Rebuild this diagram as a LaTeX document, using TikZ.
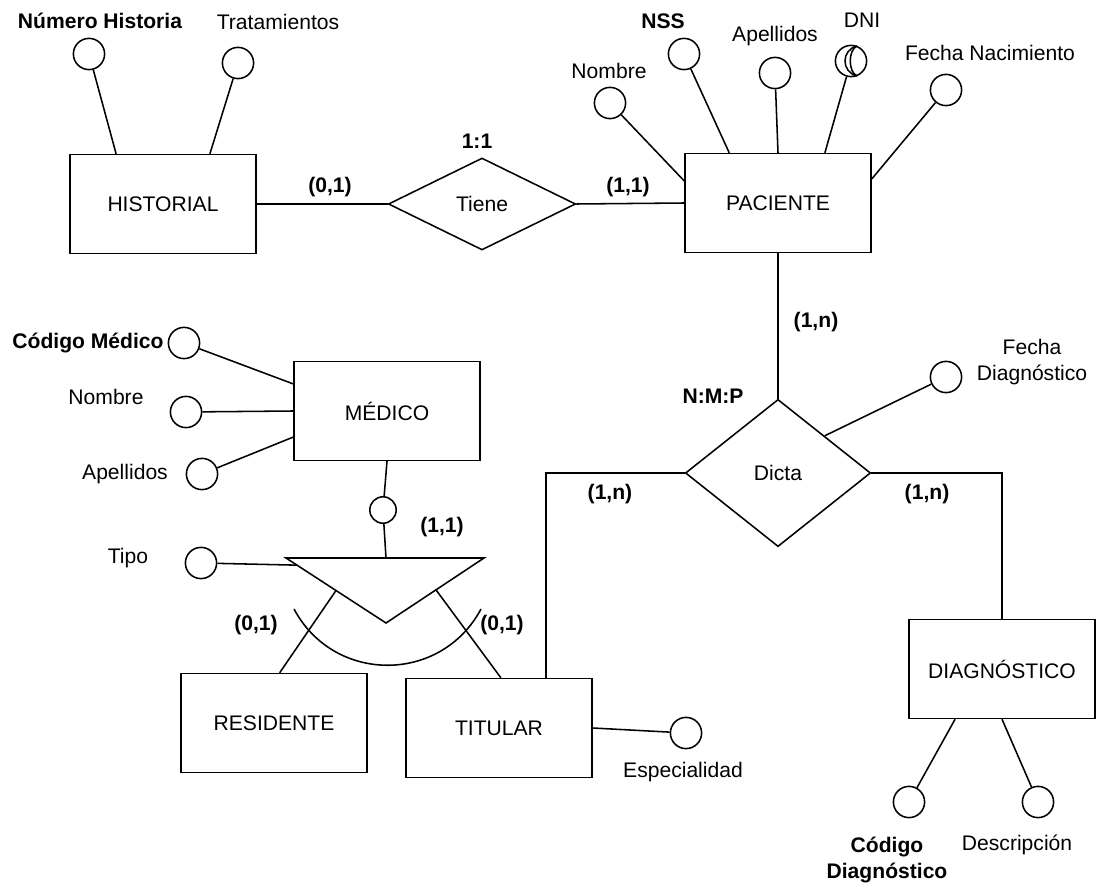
\documentclass[tikz,border=0pt]{standalone}
\usepackage{fontspec}
\setmainfont{Liberation Sans}
\usetikzlibrary{shapes.geometric,calc}
\tikzset{
  entidad/.style={draw, rectangle, minimum width=4.65cm, minimum height=2.47cm, inner sep=0pt},
  relacion/.style={draw, diamond, inner sep=0pt},
  atributo/.style={draw, circle, minimum size=0.78cm, inner sep=0pt},
  card/.style={font=\fontsize{15}{18}\selectfont\bfseries},
  rotulo/.style={align=center}
}
\begin{document}
\begin{tikzpicture}[x=0.025cm, y=-0.025cm, line width=1.1pt, font=\fontsize{15}{18}\selectfont]
%esquema entidad-relacion de la consulta medica
\useasboundingbox (0,0) rectangle (1098,885);

\node[entidad] (historial) at (163,204) {HISTORIAL};
\node[entidad] (paciente) at (778,203) {PACIENTE};
\node[entidad] (medico) at (387,411) {MÉDICO};
\node[entidad] (residente) at (274,723) {RESIDENTE};
\node[entidad] (titular) at (499,728) {TITULAR};
\node[entidad] (diagnostico) at (1002,669) {DIAGNÓSTICO};

\node[relacion, minimum width=4.68cm, minimum height=2.3cm] (tiene) at (482,204) {Tiene};
\node[relacion, minimum width=4.63cm, minimum height=3.68cm] (dicta) at (778,473) {Dicta};

\foreach \n/\x/\y in
{ nh/89/54, tr/238/63,
  pnom/610/103, nss/684/54, pape/775/73, dni/851/61, fn/946/90,
  cm/184/343, mnom/186/412, mape/202/474, tipo/201/563,
  esp/686/733, fd/946/377, cd/909/802, desc/1038/802
}
{
    \node[atributo] (\n) at (\x,\y) {};
}
\node[atributo, minimum size=0.66cm] (sc) at (383,510) {};

% la marca del DNI
\draw ($(dni)+(6,-15)$) .. controls ($(dni)+(-10,-11)$) and ($(dni)+(-10,11)$) .. ($(dni)+(6,15)$);
\draw ($(dni)+(6,-15)$) .. controls ($(dni)+(-3,-11)$) and ($(dni)+(-3,11)$) .. ($(dni)+(6,15)$);

\foreach \n/\s/\x/\y/\t in
{ nh/card/100/21/{Número Historia},
  tr/rotulo/278/22/Tratamientos,
  pnom/rotulo/609/71/Nombre,
  nss/card/663/21/NSS,
  pape/rotulo/775/36/Apellidos,
  dni/rotulo/862/20/DNI,
  fn/rotulo/990/53/{Fecha Nacimiento},
  cm/card/88/343/{Código Médico},
  mnom/rotulo/106/397/Nombre,
  mape/rotulo/125/474/Apellidos,
  tipo/rotulo/128/558/Tipo,
  esp/rotulo/683/772/Especialidad,
  fd/rotulo/1032/362/{Fecha\\Diagnóstico},
  desc/rotulo/1020/845/Descripción
}
{
    \node[\s] (l-\n) at (\x,\y) {\t};
}
\node[card, align=center] (l-cd) at (887,860) {Código\\Diagnóstico};

\foreach \n/\x/\y/\t in
{ c1/330/187/{(0,1)}, c2/628/187/{(1,1)}, c3/477/141/{1:1},
  c4/816/322/{(1,n)}, c5/713/396/{N:M:P}, c6/610/494/{(1,n)},
  c7/927/494/{(1,n)}, c8/442/527/{(1,1)}, c9/256/625/{(0,1)},
  c10/502/625/{(0,1)}
}
{
    \node[card] (\n) at (\x,\y) {\t};
}

\draw (historial.east) -- (tiene.west);
\draw (tiene.east) -- (paciente.west);
\draw (paciente.south) -- (dicta.north);
\draw (dicta.west) -| ($(titular.north west)!0.75!(titular.north east)$);
\draw (dicta.east) -| (diagnostico.north);
\draw (fd) -- ($(dicta.north)!0.5!(dicta.east)$);

\draw (nh) -- ($(historial.north west)!0.25!(historial.north east)$);
\draw (tr) -- ($(historial.north west)!0.75!(historial.north east)$);
\draw (pnom) -- ($(paciente.north west)!0.28!(paciente.south west)$);
\draw (nss) -- ($(paciente.north west)!0.24!(paciente.north east)$);
\draw (pape) -- (paciente.north);
\draw (dni) -- ($(paciente.north west)!0.75!(paciente.north east)$);
\draw (fn) -- ($(paciente.north east)!0.26!(paciente.south east)$);
\draw (cm) -- ($(medico.north west)!0.23!(medico.south west)$);
\draw (mnom) -- (medico.west);
\draw (mape) -- ($(medico.north west)!0.76!(medico.south west)$);
\draw (titular.east) -- (esp);
\draw ($(diagnostico.south west)!0.25!(diagnostico.south east)$) -- (cd);
\draw (diagnostico.south) -- (desc);

% jerarquia de medico
\coordinate (isaL) at (286,558);
\coordinate (isaR) at (484,558);
\coordinate (isaB) at (386,623);
\coordinate (isaT) at (386,558);
\draw (isaL) -- (isaR) -- (isaB) -- cycle;
\draw (medico.south) -- (sc);
\draw (sc) -- (isaT);
\draw (tipo) -- ($(isaL)!0.11!(isaB)$);
\draw ($(isaL)!0.5!(isaB)$) -- ($(residente.north west)!0.53!(residente.north east)$);
\draw ($(isaR)!0.49!(isaB)$) -- ($(titular.north west)!0.51!(titular.north east)$);
\draw (294,609) .. controls (334,684) and (441,684) .. (481,609);
\end{tikzpicture}
\end{document}
